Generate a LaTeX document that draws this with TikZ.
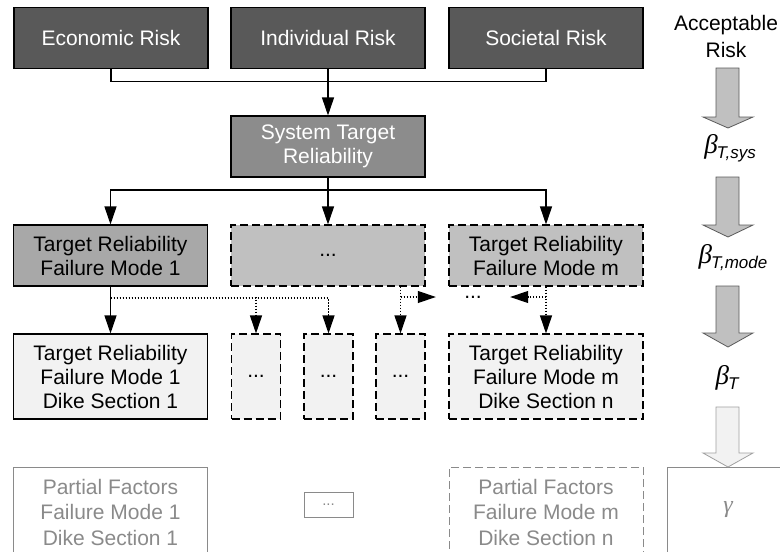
\documentclass[tikz,border=0pt]{standalone}
\usepackage{fontspec}
\setmainfont{Liberation Sans}
\newfontfamily\greekserif{Liberation Serif}
\usetikzlibrary{arrows.meta}

\definecolor{riskfill}{HTML}{595959}
\definecolor{sysfill}{HTML}{8C8C8C}
\definecolor{modefill}{HTML}{A8A8A8}
\definecolor{modelight}{HTML}{C0C0C0}
\definecolor{secfill}{HTML}{F2F2F2}
\definecolor{pfgray}{HTML}{8A8A8A}
\definecolor{blockedge}{HTML}{5A5A5A}
\definecolor{lightedge}{HTML}{A0A0A0}

% reliability index with an italic sans subscript
\newcommand{\relidx}[1]{{\greekserif\itshape\fontsize{27}{27}\selectfont β}\kern-1pt\raisebox{-5pt}{\fontsize{17}{17}\selectfont\itshape #1}}

\begin{document}
\begin{tikzpicture}[x=1pt,y=-1pt,
  box/.style={draw=black, line width=1.1pt, inner sep=0pt, align=center,
    minimum width=194pt, minimum height=61pt,
    font=\fontsize{21}{24}\selectfont},
  riskbox/.style={box, fill=riskfill, text=white},
  sysbox/.style={box, fill=sysfill, text=white},
  tallbox/.style={box, minimum height=85pt, fill=secfill},
  narrowbox/.style={box, minimum width=49pt, minimum height=85pt, fill=secfill},
  dashedge/.style={dash pattern=on 8pt off 4pt},
  pfbox/.style={box, draw=pfgray, line width=1pt, text=pfgray, minimum height=90pt,
    font=\fontsize{21}{25.5}\selectfont},
  conn/.style={line width=1.1pt},
  arr/.style={conn, -{Triangle[length=18pt,width=12pt]}},
  dotarr/.style={arr, dash pattern=on 1.5pt off 1.5pt},
  blockarrow/.style={fill=modelight, draw=blockedge, line width=0.8pt, line join=miter},
  lightblock/.style={fill=secfill, draw=lightedge, line width=0.8pt, line join=miter},
  betalabel/.style={inner sep=0pt}
]
\useasboundingbox (0,0) rectangle (780,552);

% risk sources
\node[riskbox] (econ)  at (111,38) {Economic Risk};
\node[riskbox] (indiv) at (328,38) {Individual Risk};
\node[riskbox] (soc)   at (546,38) {Societal Risk};

% system level
\node[sysbox] (sys) at (328,146.5) {System Target\\Reliability};

% failure mode level
\node[box, fill=modefill] (fm1) at (110.5,255.5) {Target Reliability\\Failure Mode 1};
\node[box, fill=modelight, dashedge] (mid) at (328,255.5) {...};
\node[box, fill=modelight, dashedge] (fmm) at (546,255.5) {Target Reliability\\Failure Mode m};

% dike section level
\node[tallbox] (ds1) at (110.5,376.5) {Target Reliability\\Failure Mode 1\\Dike Section 1};
\node[narrowbox, dashedge] (s1) at (256,376.5) {...};
\node[narrowbox, dashedge] (s2) at (328.5,376.5) {...};
\node[narrowbox, dashedge] (s3) at (400.5,376.5) {...};
\node[tallbox, dashedge] (dsn) at (546,376.5) {Target Reliability\\Failure Mode m\\Dike Section n};
\node[inner sep=0pt, minimum width=74pt, font=\fontsize{21}{24}\selectfont] (gap) at (473,297) {...};

% partial factors level
\node[pfbox] (pf1) at (110.5,512) {Partial Factors\\Failure Mode 1\\Dike Section 1};
\node[box, draw=pfgray, line width=1pt, text=pfgray, minimum width=49pt, minimum height=25pt,
      font=\fontsize{15}{15}\selectfont] (pfdots) at (328.5,504.5) {...};
\node[pfbox, dashedge] (pfn) at (546,512) {Partial Factors\\Failure Mode m\\Dike Section n};
\node[pfbox, minimum width=122pt] (gam) at (728,512) {};
\node[text=pfgray, font=\greekserif\itshape\fontsize{24}{24}\selectfont] at (728,510) {γ};

% risks combine into the system target
\draw[conn] (econ.south) -- ++(0,12) -| (soc.south);
\draw[arr] (indiv.south) -- (sys.north);

% system target split over failure modes
\coordinate (bus) at (328,190);
\draw[conn] (sys.south) -- (bus);
\draw[arr] (bus) -| (fm1.north);
\draw[arr] (bus) -- (mid.north);
\draw[arr] (bus) -| (fmm.north);

% failure modes split over dike sections
\draw[arr] (fm1.south) -- (ds1.north);
\coordinate (fork) at (110.5,298);
\draw[dotarr] (fork) -| (s1.north);
\draw[dotarr] (fork) -| (s2.north);
\draw[dotarr] (mid.south -| s3.north) -- (s3.north);
\draw[dotarr] (s3.north |- gap.west) -- (gap.west);
\draw[dotarr] (fmm.south) -- (dsn.north);
\draw[dotarr] (dsn.north |- gap.east) -- (gap.east);

% acceptable risk chain on the right
\node[font=\fontsize{21}{27}\selectfont, align=center, inner sep=0pt] (acc) at (726,36.5) {Acceptable\\Risk};
\node[betalabel] (bsys)  at (730,148) {\relidx{T,sys}};
\node[betalabel] (bmode) at (733,258) {\relidx{T,mode}};
\node[betalabel] (bt)    at (727,378) {\relidx{T}};

\draw[blockarrow] (716,68) -- (739,68) -- (739,117) -- (753,117) -- (728,128) -- (703,117) -- (716,117) -- cycle;
\draw[blockarrow] (716,177) -- (739,177) -- (739,225) -- (753,225) -- (728,237) -- (703,225) -- (716,225) -- cycle;
\draw[blockarrow] (716,286) -- (739,286) -- (739,333) -- (753,333) -- (728,347) -- (703,333) -- (716,333) -- cycle;
\draw[lightblock] (716,407) -- (739,407) -- (739,453) -- (753,453) -- (728,467) -- (703,453) -- (716,453) -- cycle;
\end{tikzpicture}
\end{document}
